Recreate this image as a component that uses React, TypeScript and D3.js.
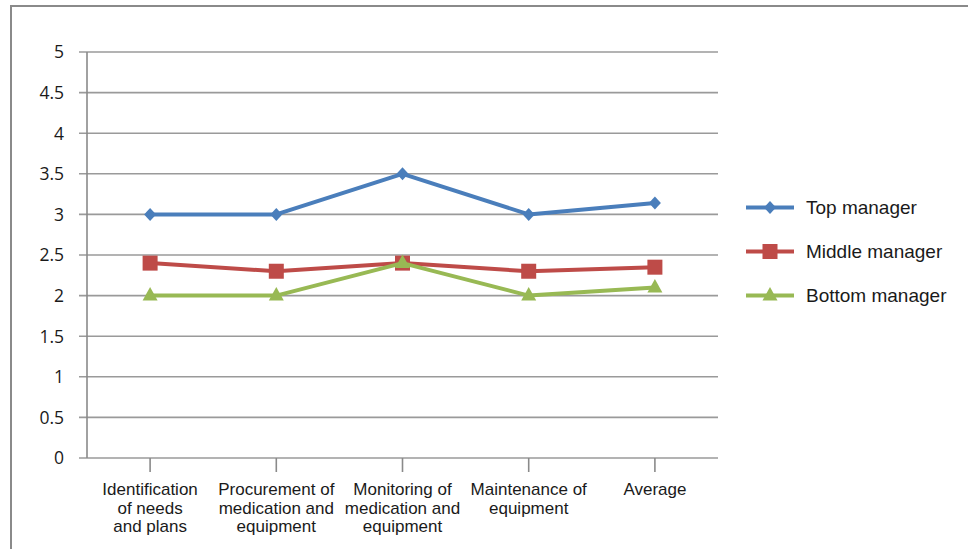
import * as d3 from 'd3';

const categories = [
  ['Identification', 'of needs', 'and plans'],
  ['Procurement of', 'medication and', 'equipment'],
  ['Monitoring of', 'medication and', 'equipment'],
  ['Maintenance of', 'equipment'],
  ['Average'],
];
const topManager = [3, 3, 3.5, 3, 3.14];
const middleManager = [2.4, 2.3, 2.4, 2.3, 2.35];
const bottomManager = [2, 2, 2.4, 2, 2.1];
const yTicks = [0, 0.5, 1, 1.5, 2, 2.5, 3, 3.5, 4, 4.5, 5];

const series = [
  { name: 'Top manager', values: topManager, color: '#4a7ebb', marker: 'diamond' },
  { name: 'Middle manager', values: middleManager, color: '#be4b48', marker: 'square' },
  { name: 'Bottom manager', values: bottomManager, color: '#98b954', marker: 'triangle' },
];

const W = 968;
const H = 549;
const left = 87;
const right = 718;
const top = 52;
const bottom = 458;

const Marker = ({ type, x, y, color }: { type: string; x: number; y: number; color: string }) => {
  if (type === 'diamond') {
    return <path d={`M${x},${y - 6.5}L${x + 6},${y}L${x},${y + 6.5}L${x - 6},${y}Z`} fill={color} />;
  }
  if (type === 'square') {
    return <rect x={x - 7.5} y={y - 7.5} width={15} height={15} fill={color} />;
  }
  return <path d={`M${x},${y - 8.5}L${x + 7.5},${y + 5}L${x - 7.5},${y + 5}Z`} fill={color} />;
};

export default function App() {
  const x = d3
    .scaleBand<number>()
    .domain(d3.range(categories.length))
    .range([left, right]);
  const y = d3.scaleLinear().domain([0, 5]).range([bottom, top]);
  const cx = (i: number) => (x(i) ?? 0) + x.bandwidth() / 2;
  const line = d3
    .line<number>()
    .x((_, i) => cx(i))
    .y((d) => y(d));

  return (
    <svg
      width={W}
      height={H}
      style={{ position: 'absolute', left: 0, top: 0, background: '#fff' }}
    >
      <rect x={11} y={6} width={W + 20} height={H + 20} fill="#fff" stroke="#8a8a8a" strokeWidth={2} />
      {yTicks.map((t) => (
        <g key={t}>
          <line x1={79} x2={right} y1={y(t)} y2={y(t)} stroke="#9a9a9a" strokeWidth={1.6} />
          <text
            x={64}
            y={y(t)}
            dy="0.36em"
            textAnchor="end"
            fontFamily="'Open Sans', sans-serif"
            fontSize={17.5}
            fill="#1a1a1a"
          >
            {t}
          </text>
        </g>
      ))}
      <line x1={left} x2={left} y1={top} y2={bottom} stroke="#8a8a8a" strokeWidth={1.6} />
      {categories.map((lines, i) => (
        <g key={i}>
          <line x1={cx(i)} x2={cx(i)} y1={bottom} y2={bottom + 14} stroke="#8a8a8a" strokeWidth={1.6} />
          <text
            textAnchor="middle"
            fontFamily="'Liberation Sans', Arial, sans-serif"
            fontSize={17}
            fill="#1a1a1a"
          >
            {lines.map((l, j) => (
              <tspan key={j} x={cx(i)} y={495 + j * 18.5}>
                {l}
              </tspan>
            ))}
          </text>
        </g>
      ))}
      {series.map((s) => (
        <g key={s.name}>
          <path d={line(s.values) ?? ''} fill="none" stroke={s.color} strokeWidth={4} strokeLinejoin="round" />
          {s.values.map((v, i) => (
            <Marker key={i} type={s.marker} x={cx(i)} y={y(v)} color={s.color} />
          ))}
        </g>
      ))}
      {series.map((s, i) => {
        const ly = 207.5 + i * 44;
        return (
          <g key={s.name}>
            <line x1={746} x2={794} y1={ly} y2={ly} stroke={s.color} strokeWidth={4} />
            <Marker type={s.marker} x={770} y={ly} color={s.color} />
            <text
              x={806}
              y={ly}
              dy="0.36em"
              fontFamily="'Liberation Sans', Arial, sans-serif"
              fontSize={19}
              fill="#1a1a1a"
            >
              {s.name}
            </text>
          </g>
        );
      })}
    </svg>
  );
}
